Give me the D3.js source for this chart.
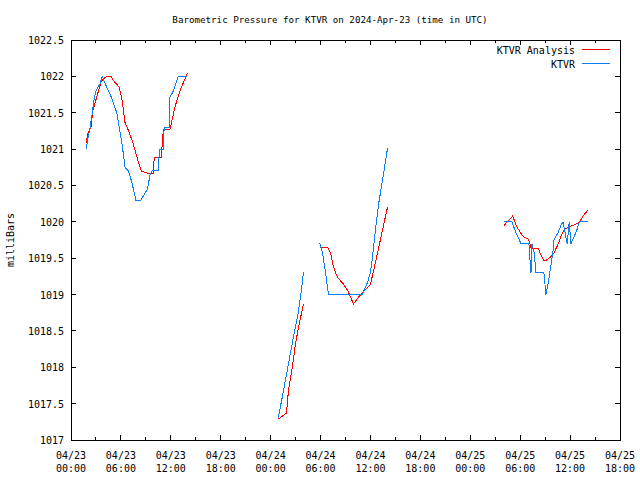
<!DOCTYPE html>
<html><head><meta charset="utf-8">
<script src="https://cdn.jsdelivr.net/npm/d3@7"></script>
<style>body{margin:0;background:#fff}svg{display:block}text{font-family:"DejaVu Sans Mono",monospace;font-size:10px;fill:#000}</style>
</head><body><div id="chart"></div>
<script>
const title = "Barometric Pressure for KTVR on 2024-Apr-23 (time in UTC)";
const yLabel = "milliBars";
const seriesNames = ["KTVR Analysis", "KTVR"];
const seriesColors = ["#ff0000", "#0a80f0"];
const yTicks = [1017, 1017.5, 1018, 1018.5, 1019, 1019.5, 1020, 1020.5, 1021, 1021.5, 1022, 1022.5];
// hours since 2024-04-23 00:00 UTC; null value = gap
const analysisHours = [1.8,2.05,2.4,2.65,3.1,3.6,4.1,4.8,5.05,5.8,6.15,6.5,6.75,7.35,7.95,8.45,9.15,9.9,10.0,10.85,11.1,11.9,12.5,13.1,14.0, 20,
  24.95,25.9,26.15,26.6,27.0,27.35,27.95, 29,
  29.9,30.85,31.2,31.55,32.05,32.65,33.25,33.6,33.95,34.6,35.2,36.0,36.4,36.85,37.45,38.05, 45,
  52.05,53.1,53.6,54.1,54.35,55.0,55.1,55.35,56.2,56.5,56.85,57.1,57.7,58.05,58.55,58.9,59.3,60.1,60.5,61.1,61.55,62.15];
const analysisValues = [1021.08,1021.23,1021.3,1021.54,1021.72,1021.92,1021.99,1022.0,1021.95,1021.85,1021.67,1021.36,1021.3,1021.12,1020.88,1020.7,1020.67,1020.67,1020.88,1020.88,1021.27,1021.27,1021.58,1021.8,1022.05, null,
  1017.29,1017.37,1017.69,1018.0,1018.33,1018.55,1018.87, null,
  1019.64,1019.65,1019.57,1019.38,1019.23,1019.16,1019.06,1018.97,1018.87,1018.97,1019.05,1019.14,1019.34,1019.57,1019.89,1020.2, null,
  1019.95,1020.08,1019.93,1019.84,1019.8,1019.76,1019.72,1019.63,1019.63,1019.54,1019.46,1019.47,1019.52,1019.57,1019.69,1019.8,1019.9,1019.94,1019.96,1019.99,1020.08,1020.16];
const obsHours = [1.8,2.05,2.3,2.5,2.8,3.0,3.5,3.75,4.3,4.9,5.5,6.1,6.5,6.9,7.3,7.8,8.4,9.2,9.5,9.75,10.4,10.55,10.6,11.1,11.2,11.8,11.85,12.3,12.9,14.0, 20,
  24.9,25.4,26.0,26.6,27.3,27.7,27.95, 29,
  29.9,30.25,30.6,30.95,35.05,35.65,36.0,36.25,36.6,37.0,37.45,38.05, 45,
  52.05,53.0,53.5,54.1,55.05,55.2,55.3,55.4,55.65,55.9,56.85,57.1,57.35,57.7,57.95,58.05,58.55,58.9,59.15,59.4,59.65,59.9,60.1,60.5,60.85,61.1,62.15];
const obsValues = [1021.0,1021.15,1021.3,1021.45,1021.7,1021.8,1021.9,1022.0,1021.85,1021.7,1021.5,1021.1,1020.75,1020.7,1020.55,1020.3,1020.3,1020.45,1020.65,1020.7,1020.7,1020.7,1021.0,1021.0,1021.3,1021.3,1021.7,1021.8,1022.0,1022.0, null,
  1017.3,1017.59,1017.96,1018.33,1018.74,1019.06,1019.31, null,
  1019.71,1019.57,1019.3,1019.0,1019.0,1019.17,1019.3,1019.52,1019.89,1020.26,1020.57,1021.01, null,
  1020.0,1020.0,1019.85,1019.7,1019.7,1019.45,1019.3,1019.7,1019.6,1019.3,1019.3,1019.0,1019.15,1019.4,1019.6,1019.75,1019.85,1019.95,1020.0,1019.85,1019.7,1020.0,1019.7,1019.8,1019.9,1020.0,1020.0];

const W = 640, H = 480;
const m = {left: 71, right: 20, top: 40, bottom: 40};
const t0 = Date.UTC(2024, 3, 23, 0, 0);
const toDate = h => new Date(t0 + h * 3600e3);
const svg = d3.select("#chart").append("svg").attr("width", W).attr("height", H);
const x = d3.scaleUtc().domain([toDate(0), toDate(66)]).range([m.left, W - m.right]);
const y = d3.scaleLinear().domain([1017, 1022.5]).range([H - m.bottom, m.top]);

const majorT = d3.range(0, 67, 6).map(toDate);
const minorT = d3.range(3, 66, 6).map(toDate);
const fmtD = d3.utcFormat("%m/%d"), fmtH = d3.utcFormat("%H:%M");

const g = svg.append("g").attr("shape-rendering", "crispEdges");
const ticks = [];
majorT.forEach(d => { ticks.push([x(d), H - m.bottom, x(d), H - m.bottom - 5]); ticks.push([x(d), m.top, x(d), m.top + 5]); });
minorT.forEach(d => { ticks.push([x(d), H - m.bottom, x(d), H - m.bottom - 3]); ticks.push([x(d), m.top, x(d), m.top + 3]); });
yTicks.forEach(v => { ticks.push([m.left, y(v), m.left + 5, y(v)]); ticks.push([W - m.right, y(v), W - m.right - 5, y(v)]); });
g.selectAll("line.tk").data(ticks).join("line").attr("class", "tk")
  .attr("x1", d => d[0]).attr("y1", d => d[1]).attr("x2", d => d[2]).attr("y2", d => d[3]).attr("stroke", "#000");
g.append("rect").attr("x", m.left).attr("y", m.top).attr("width", W - m.left - m.right).attr("height", H - m.top - m.bottom)
  .attr("fill", "none").attr("stroke", "#000");

const xl = svg.append("g").selectAll("text").data(majorT).join("text").attr("text-anchor", "middle");
xl.append("tspan").attr("x", d => x(d)).attr("y", H - m.bottom + 19).text(d => fmtD(d));
xl.append("tspan").attr("x", d => x(d)).attr("y", H - m.bottom + 32).text(d => fmtH(d));
svg.append("g").selectAll("text").data(yTicks).join("text").attr("text-anchor", "end")
  .attr("x", m.left - 7).attr("y", d => y(d) + 4).text(d => d3.format("")(d));

svg.append("text").attr("x", 330).attr("y", 23).attr("text-anchor", "middle").style("font-size", "9.2px").text(title);
svg.append("text").attr("transform", `translate(14,${(m.top + H - m.bottom) / 2}) rotate(-90)`).attr("text-anchor", "middle").text(yLabel);

const line = d3.line().defined(d => d[1] !== null).x(d => x(toDate(d[0]))).y(d => y(d[1]));
const series = [
  analysisHours.map((h, i) => [h, analysisValues[i]]),
  obsHours.map((h, i) => [h, obsValues[i]])
];
svg.append("g").attr("shape-rendering", "crispEdges").selectAll("path").data(series).join("path")
  .attr("d", line).attr("fill", "none").attr("stroke", (d, i) => seriesColors[i]).attr("stroke-width", 1);

const lg = svg.append("g").selectAll("g").data(seriesNames).join("g").attr("transform", (d, i) => `translate(0,${54 + i * 14})`);
lg.append("text").attr("x", 575).attr("y", 0).attr("text-anchor", "end").text(d => d);
lg.append("rect").attr("x", 582).attr("width", 28).attr("y", -5).attr("height", 1).attr("fill", (d, i) => seriesColors[i]);
</script></body></html>
